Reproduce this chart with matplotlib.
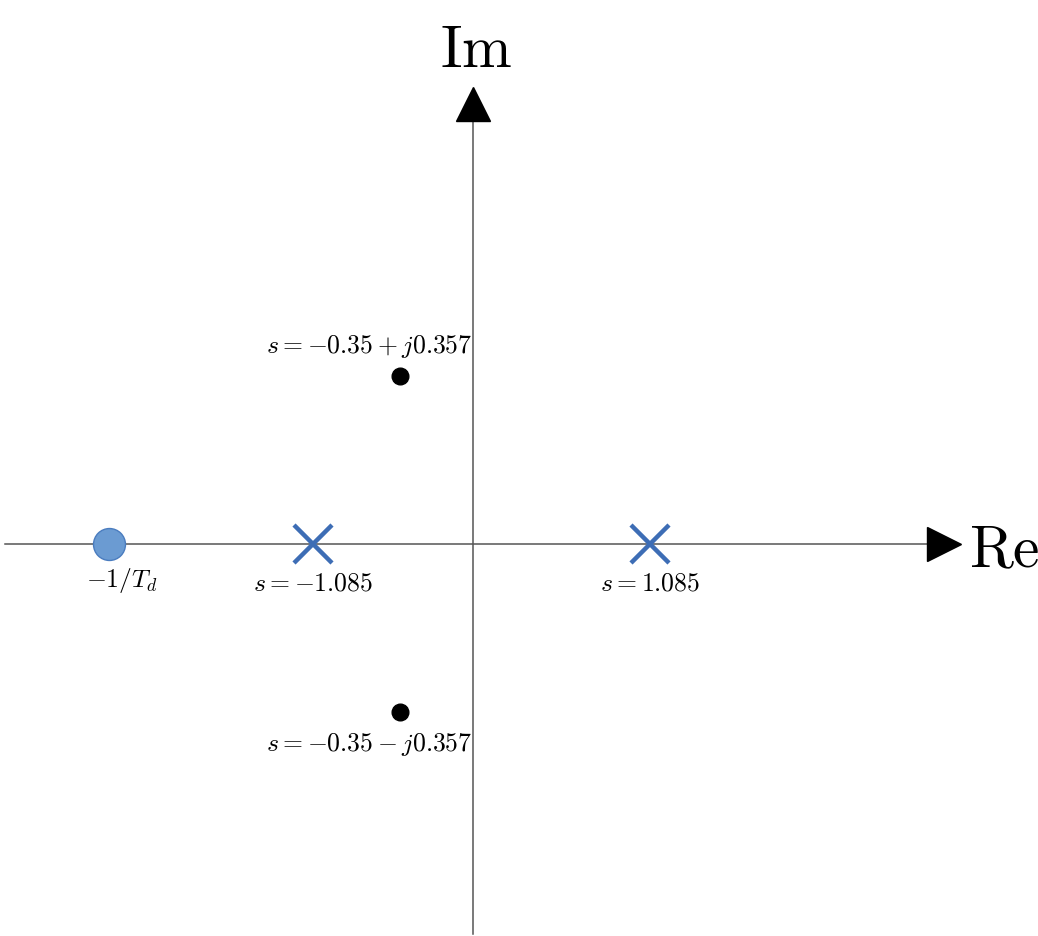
import matplotlib
matplotlib.use("Agg")
import matplotlib.pyplot as plt

plt.rcParams['mathtext.fontset'] = 'cm'
plt.rcParams['font.family'] = 'serif'
plt.rcParams['font.serif'] = ['DejaVu Serif']

# pole / zero positions as drawn (schematic units)
zero_re = [-2.233]
zero_im = [0.0]
zero_labels = [r'$-1/T_d$']

real_pole_re = [-0.982, 1.086]
real_pole_im = [0.0, 0.0]
real_pole_labels = [r'$s=-1.085$', r'$s=1.085$']

cplx_pole_re = [-0.448, -0.448]
cplx_pole_im = [1.031, -1.031]
cplx_pole_labels = [r'$s=-0.35+j0.357$', r'$s=-0.35-j0.357$']

fig = plt.figure(figsize=(10.38, 9.37), dpi=100)
ax = fig.add_axes([0, 0, 1, 1])
ax.set_xlim(-2.902, 3.466)
ax.set_ylim(-2.405, 3.344)
ax.axis('off')

# axes with arrow heads
ax.plot([-2.871, 2.82], [0, 0], color='#555555', lw=1.1, zorder=1)
ax.plot([0, 0], [-2.393, 2.62], color='#555555', lw=1.1, zorder=1)
ax.plot([2.89], [0], marker='>', ms=24, color='black', zorder=2)
ax.plot([0], [2.70], marker='^', ms=24, color='black', zorder=2)
ax.text(3.26, -0.03, r'$\mathrm{Re}$', fontsize=43, ha='center', va='center')
ax.text(0.02, 3.04, r'$\mathrm{Im}$', fontsize=43, ha='center', va='center')

# zero
ax.plot(zero_re, zero_im, 'o', ms=23, color='#6b9bd2', mec='#4a7cbf', mew=1, zorder=3)
for x, y, lab in zip(zero_re, zero_im, zero_labels):
    ax.text(x + 0.08, y - 0.22, lab, fontsize=18.5, ha='center', va='center')

# real poles
ax.plot(real_pole_re, real_pole_im, 'x', ms=27, mew=3.2, color='#3d6db5', zorder=3)
for x, y, lab in zip(real_pole_re, real_pole_im, real_pole_labels):
    ax.text(x, y - 0.23, lab, fontsize=18.5, ha='center', va='center')

# complex poles
ax.plot(cplx_pole_re, cplx_pole_im, 'o', ms=12, color='black', zorder=3)
for x, y, lab in zip(cplx_pole_re, cplx_pole_im, cplx_pole_labels):
    off = 0.19 if y > 0 else -0.19
    ax.text(x - 0.19, y + off, lab, fontsize=18.5, ha='center', va='center')

fig.savefig('out.png', dpi=100)
